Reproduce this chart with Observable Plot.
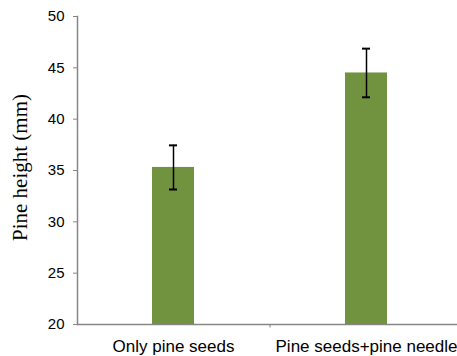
<!DOCTYPE html>
<html>
<head>
<meta charset="utf-8">
<script src="https://cdn.jsdelivr.net/npm/d3@7"></script>
<script src="https://cdn.jsdelivr.net/npm/@observablehq/plot@0.6"></script>
<style>
  html, body { margin: 0; padding: 0; background: #fff; }
  #chart svg { display: block; }
</style>
</head>
<body>
<div id="chart"></div>
<script>
const categories = ["Only pine seeds", "Pine seeds+pine needle"];
const means = [35.3, 44.5];
const errors = [2.15, 2.37];
const yTicks = [20, 25, 30, 35, 40, 45, 50];
const yLabel = "Pine height (mm)";

const data = categories.map((c, i) => ({cat: c, v: means[i], e: errors[i]}));
const axisColor = "#868686";

const chart = Plot.plot({
  width: 457,
  height: 356,
  marginLeft: 77,
  marginRight: 0,
  marginTop: 16,
  marginBottom: 32,
  style: {fontFamily: "'Liberation Sans', Arial, sans-serif", color: "#000", background: "#fff"},
  x: {domain: categories, range: [77, 463], paddingInner: 0.78, paddingOuter: 0.39, axis: null},
  y: {domain: [20, 50], axis: null},
  marks: [
    Plot.barY(data, {x: "cat", y1: 20, y2: "v", fill: "#71923f"}),
    Plot.ruleX(data, {x: "cat", y1: d => d.v - d.e, y2: d => d.v + d.e, stroke: "#000", strokeWidth: 1.5}),
    Plot.tickY(data, {x: "cat", y: d => d.v - d.e, stroke: "#000", strokeWidth: 2, insetLeft: 17, insetRight: 17}),
    Plot.tickY(data, {x: "cat", y: d => d.v + d.e, stroke: "#000", strokeWidth: 2, insetLeft: 17, insetRight: 17}),
    Plot.ruleY([20], {stroke: axisColor, strokeWidth: 1.5}),
    Plot.ruleX([categories[0]], {x: d => d, dx: 96.5, y1: 20, y2: 19.65, stroke: axisColor, strokeWidth: 1}),
    Plot.frame({anchor: "left", stroke: axisColor, strokeWidth: 1.5}),
    Plot.axisY({ticks: yTicks, tickSize: 4, tickPadding: 9, fontSize: 15, stroke: axisColor, fill: "#000", label: null}),
    Plot.axisX({tickSize: 0, tickPadding: 15, fontSize: 17, fill: "#000", label: null}),
    Plot.text([yLabel], {frameAnchor: "left", textAnchor: "middle", dx: -57, dy: -3, rotate: -90, fontSize: 21, fontFamily: "'Liberation Serif', 'Times New Roman', serif", fill: "#000"})
  ]
});
document.getElementById("chart").appendChild(chart);
</script>
</body>
</html>
